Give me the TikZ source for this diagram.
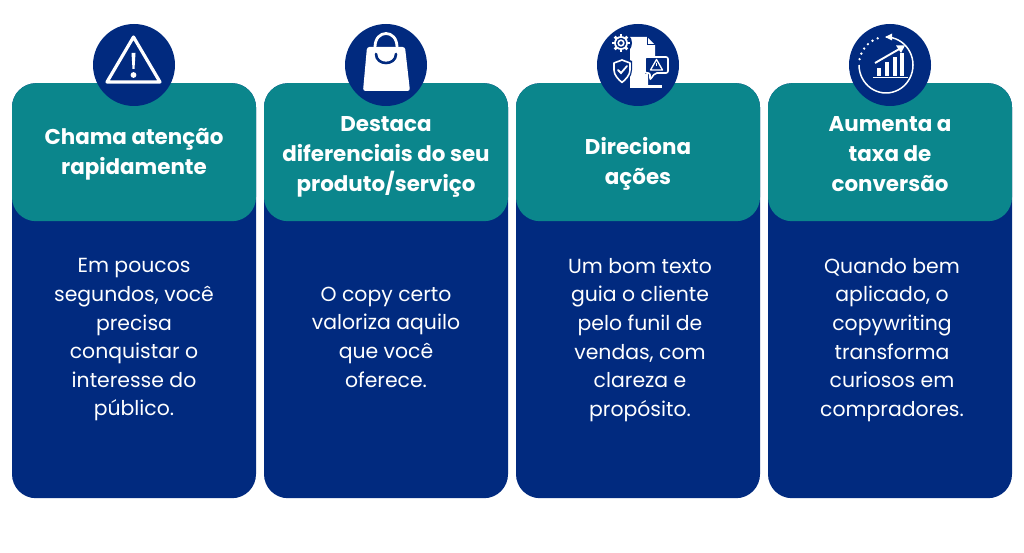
\documentclass[tikz,border=0pt]{standalone}
\usepackage{fontspec}
\setmainfont{Poppins}
\usepackage{tikz}
\usetikzlibrary{positioning}
\definecolor{navy}{HTML}{012A7F}
\definecolor{teal}{HTML}{0B868C}
\tikzstyle{card} = [rectangle, rounded corners=24pt, minimum width=244pt, minimum height=415pt, anchor=north, fill=navy]
\tikzstyle{head} = [rectangle, rounded corners=24pt, minimum width=244pt, minimum height=138pt, anchor=north, fill=teal]
\tikzstyle{badge} = [circle, minimum size=82pt, fill=navy]
\tikzstyle{title} = [white, align=center, font=\fontsize{21.4}{30}\selectfont\bfseries]
\tikzstyle{body} = [white, align=center, font=\fontsize{20.4}{28.6}\selectfont]
\tikzstyle{icon} = [white, line width=3.2pt, line cap=round, line join=round]
\begin{document}
\begin{tikzpicture}[x=1pt,y=-1pt]
\useasboundingbox (0,0) rectangle (1024,553);

\node(cardA)[card] at (134,83) {};
\node(cardB)[card] at (386,83) {};
\node(cardC)[card] at (638,83) {};
\node(cardD)[card] at (890,83) {};

\node(headA)[head] at (cardA.north) {};
\node(headB)[head] at (cardB.north) {};
\node(headC)[head] at (cardC.north) {};
\node(headD)[head] at (cardD.north) {};

\node(badgeA)[badge] at (134,65) {};
\node(badgeB)[badge] at (386,65) {};
\node(badgeC)[badge] at (638,65) {};
\node(badgeD)[badge] at (890,65) {};

\node(titleA)[title] at (134,154.5) {Chama atenção\\rapidamente};
\node(titleB)[title] at (386,157) {Destaca\\diferenciais do seu\\produto/serviço};
\node(titleC)[title] at (638,164) {Direciona\\ações};
\node(titleD)[title] at (890,154) {Aumenta a\\taxa de\\conversão};

\node(bodyA)[body] at (134,340) {Em poucos\\segundos, você\\precisa\\conquistar o\\interesse do\\público.};
\node(bodyB)[body] at (386,337) {O copy certo\\valoriza aquilo\\que você\\oferece.};
\node(bodyC)[body] at (640,340) {Um bom texto\\guia o cliente\\pelo funil de\\vendas, com\\clareza e\\propósito.};
\node(bodyD)[body] at (892,340) {Quando bem\\aplicado, o\\copywriting\\transforma\\curiosos em\\compradores.};

% warning
\draw[icon] (133.5,37) -- (107,82) -- (160,82) -- cycle;
\fill[white] (131.5,53) -- (135.5,53) -- (134.5,69) -- (132.5,69) -- cycle;
\fill[white] (133.5,75) circle (2.9);

% bag
\draw[icon,line width=2.8pt] (375,47) .. controls (375,29) and (397,29) .. (397,47);
\fill[white,rounded corners=2.5pt] (367,47) -- (405,47) -- (410,91) -- (363,91) -- cycle;
\draw[navy,line width=2.6pt,line cap=round] (376,54) .. controls (376,66) and (396,66) .. (396,54);

% document
\fill[white] (630,37) -- (647,37) -- (655,45) -- (655,60) -- (645,60) -- (645,74) -- (648,74) -- (648,85) -- (630,85) -- cycle;
\draw[navy,line width=1pt] (647,37) -- (647,45) -- (655,45);
\fill[white] (630,85) rectangle (662,88.5);
% gear
\fill[navy] (621,43) circle (11);
\draw[white,line width=1.8pt] (621,43) circle (6);
\foreach \ang in {0,45,...,315}
  \draw[white,line width=2.8pt] (621,43) ++(\ang:6) -- ++(\ang:3);
\fill[navy] (621,43) circle (5);
\draw[white,line width=1.6pt] (621,43) circle (2.8);
% shield
\fill[navy] (622,57) -- (632,61) -- (632,70) .. controls (632,77) and (627,81) .. (622,85) .. controls (617,81) and (612,77) .. (612,70) -- (612,61) -- cycle;
\draw[white,line width=1.6pt,line join=round] (622,60) -- (630,63) -- (630,70) .. controls (630,75) and (626,79) .. (622,82.5) .. controls (618,79) and (614,75) .. (614,70) -- (614,63) -- cycle;
\draw[white,line width=1.8pt,line cap=round] (618,70) -- (621,73) -- (627,66);
% speech bubble
\draw[white,fill=navy,line width=1.6pt,rounded corners=2pt] (645,57) -- (668,57) -- (668,73) -- (655,73) -- (650,80) -- (650,73) -- (645,73) -- cycle;
\draw[white,line width=1.3pt,line join=round] (656.5,59.5) -- (650.5,70) -- (662.5,70) -- cycle;
\draw[white,line width=1.1pt] (656.5,63) -- (656.5,66.5);

% growth
\draw[white,line width=1.5pt] plot[smooth,samples=40,domain=-90:180] ({886+27*cos(\x)},{65+28*sin(\x)});
\foreach \ang in {192,204,...,252}
  \fill[white] ({886+27*cos(\ang)},{65+28*sin(\ang)}) circle (1.3);
\fill[white] (885,37) -- (892,33.5) -- (892,40.5) -- cycle;
\draw[white,line width=1.9pt] (875,63) -- (901,48);
\fill[white] (905,45.5) -- (896,45.5) -- (901,53) -- cycle;
\fill[white] (877,68) rectangle (881,76);
\fill[white] (885,62) rectangle (889,76);
\fill[white] (893,57) rectangle (897,76);
\fill[white] (900,53) rectangle (904,76);
\draw[white,line width=1.5pt] (873,77.5) -- (908,77.5);
\end{tikzpicture}
\end{document}
